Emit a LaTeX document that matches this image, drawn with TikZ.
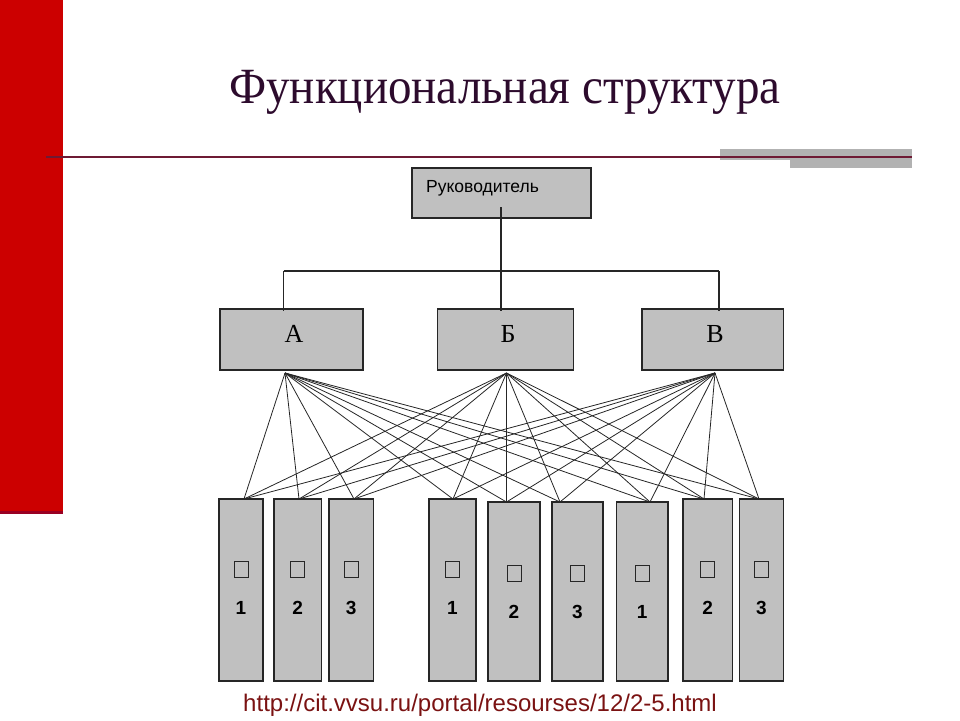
\documentclass[tikz,border=0pt]{standalone}
\usepackage{fontspec}
\setmainfont{Liberation Serif}
\setsansfont{Liberation Sans}
\definecolor{barred}{HTML}{CC0000}
\definecolor{bardark}{HTML}{990022}
\definecolor{rulecol}{HTML}{6E1A34}
\definecolor{accgray}{HTML}{B2B2B2}
\definecolor{titlecol}{HTML}{2D0B2D}
\definecolor{boxgray}{HTML}{C0C0C0}
\definecolor{urlcol}{HTML}{7A1212}
\begin{document}
\begin{tikzpicture}[x=1pt,y=-1pt,
  box/.style={draw=black!85, fill=boxgray, line width=1.3pt, inner sep=0pt, outer sep=0pt, anchor=north west},
  sq/.style={draw=black!85, line width=1pt, minimum width=14pt, minimum height=16pt, inner sep=0pt},
  num/.style={font=\sffamily\bfseries\fontsize{19}{19}\selectfont, inner sep=0pt},
  big/.style={font=\rmfamily\fontsize{26}{26}\selectfont, inner sep=0pt},
  tree/.style={line width=1.1pt, black!85},
  fan/.style={line width=0.8pt, black!85}]
\useasboundingbox (0,0) rectangle (960,720);
% decorations
\fill[barred] (0,0) rectangle (63,514);
\fill[bardark] (0,511) rectangle (63,514);
\fill[accgray] (720,149) rectangle (912,160);
\fill[accgray] (790,160) rectangle (912,168);
\draw[rulecol, line width=2pt] (46,157) -- (912,157);
% title
\node[font=\rmfamily\fontsize{47}{47}\selectfont, text=titlecol, inner sep=0pt, yscale=1.08] (title) at (505,92) {Функциональная структура};
% top boxes
\node[box, minimum width=179pt, minimum height=50pt] (boss) at (412,168) {};
\node[font=\sffamily\fontsize{17.5}{17.5}\selectfont, anchor=west, inner sep=0pt] (bosst) at (426,188) {Руководитель};
\node[box, minimum width=143pt, minimum height=61pt] (A) at (220,309) {};
\node[box, minimum width=136pt, minimum height=61pt] (B) at (437.5,309) {};
\node[box, minimum width=141.5pt, minimum height=61pt] (C) at (642,309) {};
\node[big] (At) at (294,334) {А};
\node[big] (Bt) at (508,334) {Б};
\node[big] (Ct) at (715,334) {В};
% tree
\coordinate (bs) at (501,207);
\coordinate (jA) at (283.5,271);
\coordinate (jB) at (501,271);
\coordinate (jC) at (719,271);
\draw[tree] (bs) -- (jB);
\draw[tree] (jA) -- (jC);
\draw[tree] (jA) -- ([yshift=-2pt]jA |- A.north);
\draw[tree] (jB) -- ([yshift=-2pt]jB |- B.north);
\draw[tree] (jC) -- ([yshift=-2pt]jC |- C.north);
% bottom boxes
\node[box, minimum width=44pt, minimum height=182pt] (b1) at (219,499) {};
\node[box, minimum width=47.5pt, minimum height=182pt] (b2) at (274,499) {};
\node[box, minimum width=44.5pt, minimum height=182pt] (b3) at (329,499) {};
\node[box, minimum width=47pt, minimum height=182pt] (b4) at (429,499) {};
\node[box, minimum width=52pt, minimum height=179pt] (b5) at (488,502) {};
\node[box, minimum width=51pt, minimum height=179pt] (b6) at (552,502) {};
\node[box, minimum width=51.5pt, minimum height=179pt] (b7) at (616.5,502) {};
\node[box, minimum width=49.5pt, minimum height=182pt] (b8) at (683,499) {};
\node[box, minimum width=44pt, minimum height=182pt] (b9) at (739.5,499) {};
% squares and numbers
\foreach \i/\n/\yy in {1/1/569.5,2/2/569.5,3/3/569.5,4/1/569.5,5/2/573.5,6/3/573.5,7/1/573.5,8/2/569.5,9/3/569.5}{
  \node[sq] (s\i) at (b\i.center |- 0,\yy) {};
}
\foreach \i/\n/\yy in {1/1/608,2/2/608,3/3/608,4/1/608,5/2/612,6/3/612,7/1/612,8/2/608,9/3/608}{
  \node[num] (n\i) at (b\i.center |- 0,\yy) {\n};
}
% fan
\coordinate (fA) at (285,373);
\coordinate (fB) at (506.5,373);
\coordinate (fC) at (715,373);
\coordinate (e1) at (244,499);
\coordinate (e2) at (299,499);
\coordinate (e3) at (354,499);
\coordinate (e4) at (453,499);
\coordinate (e5) at (506.5,502);
\coordinate (e6) at (560,502);
\coordinate (e7) at (650,502);
\coordinate (e8) at (704,499);
\coordinate (e9) at (759,499);
\foreach \f in {fA,fB,fC}{
  \foreach \i in {1,...,9}{
    \draw[fan] (\f) -- (e\i);
  }
}
% url
\node[font=\sffamily\fontsize{24}{24}\selectfont, text=urlcol, inner sep=0pt] (url) at (480,705) {http://cit.vvsu.ru/portal/resourses/12/2-5.html};
\end{tikzpicture}
\end{document}
